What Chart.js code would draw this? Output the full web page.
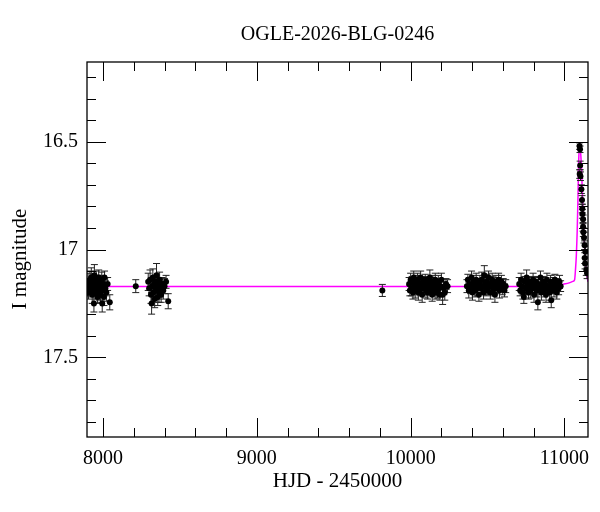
<!DOCTYPE html>
<html>
<head>
<meta charset="utf-8">
<script src="https://cdn.jsdelivr.net/npm/chart.js@4"></script>
<style>
  body { margin: 0; background: #fff; }
  #wrap { width: 600px; height: 512px; }
</style>
</head>
<body>
<div id="wrap"><canvas id="chart"></canvas></div>
<script>
// Fotometria OGLE: HJD - 2450000, magnitud I y su error
const hjd = [
    // temporada 1
    7900, 7903, 7906, 7910, 7915, 7920, 7924, 7927, 7930, 7933, 7937, 7941, 7944, 7948, 7952, 7956, 7960,
    7964, 7968, 7972, 7976, 7980, 7984, 7988, 7992, 7995, 7998, 8002, 8006, 8010, 8015, 8022, 8030, 8044,
    8213,
    // temporada 2
    8294, 8300, 8306, 8312, 8316, 8320, 8324, 8328, 8332, 8336, 8340, 8344, 8348, 8352, 8356, 8360, 8364,
    8368, 8372, 8378, 8385, 8392, 8400, 8410, 8424,
    9816,
    // temporada 3
    9990, 9995, 10000, 10005, 10010, 10015, 10020, 10025, 10030, 10035, 10040, 10045, 10050, 10055, 10060,
    10065, 10070, 10075, 10080, 10085, 10090, 10095, 10100, 10105, 10110, 10115, 10120, 10125, 10130, 10135,
    10140, 10145, 10150, 10155, 10160, 10165, 10170, 10175, 10180, 10185, 10190, 10195, 10200, 10208, 10215,
    10222, 10230, 10240,
    // temporada 4
    10366, 10372, 10378, 10384, 10390, 10396, 10402, 10408, 10414, 10420, 10426, 10432, 10438, 10444, 10450,
    10456, 10462, 10468, 10474, 10479, 10485, 10490, 10495, 10500, 10506, 10512, 10518, 10524, 10530, 10536,
    10542, 10548, 10554, 10560, 10566, 10572, 10578, 10584, 10590, 10596, 10602, 10610, 10618,
    // temporada 5
    10706, 10712, 10718, 10724, 10730, 10736, 10742, 10748, 10754, 10760, 10766, 10772, 10778, 10784, 10790,
    10796, 10802, 10808, 10814, 10820, 10827, 10832, 10838, 10844, 10850, 10856, 10862, 10868, 10874, 10880,
    10886, 10892, 10898, 10904, 10910, 10914, 10920, 10926, 10932, 10938, 10944, 10950, 10956, 10962, 10968,
    10975,
    // evento
    11098, 11101, 11102, 11099, 11104, 11110, 11114, 11116, 11117, 11121, 11121, 11123, 11127, 11131, 11136,
    11132, 11134, 11142, 11147
];
const mag = [
    17.18, 17.15, 17.20, 17.17, 17.14, 17.19, 17.13, 17.16, 17.21, 17.18, 17.15, 17.25, 17.12, 17.17, 17.20, 17.14, 17.18,
    17.22, 17.16, 17.13, 17.19, 17.15, 17.21, 17.17, 17.14, 17.25, 17.19, 17.16, 17.22, 17.13, 17.18, 17.20, 17.16, 17.245,
    17.17,
    17.15, 17.18, 17.14, 17.21, 17.25, 17.17, 17.13, 17.20, 17.16, 17.23, 17.15, 17.19, 17.12, 17.18, 17.22, 17.16, 17.20,
    17.14, 17.18, 17.21, 17.16, 17.19, 17.17, 17.15, 17.24,
    17.19,
    17.16, 17.19, 17.14, 17.18, 17.15, 17.20, 17.13, 17.17, 17.19, 17.15, 17.18, 17.14, 17.20, 17.16, 17.19,
    17.13, 17.17, 17.21, 17.15, 17.18, 17.16, 17.14, 17.19, 17.17, 17.20, 17.15, 17.18, 17.13, 17.16, 17.19,
    17.21, 17.15, 17.18, 17.17, 17.14, 17.20, 17.16, 17.19, 17.15, 17.18, 17.21, 17.17, 17.14, 17.21, 17.18,
    17.20, 17.16, 17.17,
    17.17, 17.14, 17.19, 17.16, 17.18, 17.13, 17.20, 17.15, 17.17, 17.19, 17.14, 17.18, 17.16, 17.21, 17.15,
    17.18, 17.14, 17.17, 17.20, 17.12, 17.16, 17.19, 17.15, 17.18, 17.13, 17.17, 17.20, 17.16, 17.14, 17.19,
    17.17, 17.21, 17.15, 17.18, 17.16, 17.14, 17.19, 17.17, 17.15, 17.18, 17.16, 17.19, 17.17,
    17.16, 17.19, 17.14, 17.17, 17.20, 17.22, 17.15, 17.18, 17.13, 17.17, 17.20, 17.15, 17.19, 17.16, 17.18,
    17.14, 17.21, 17.17, 17.15, 17.19, 17.245, 17.16, 17.18, 17.13, 17.20, 17.17, 17.15, 17.19, 17.16, 17.21,
    17.14, 17.18, 17.17, 17.20, 17.15, 17.235, 17.18, 17.16, 17.19, 17.14, 17.17, 17.20, 17.16, 17.18, 17.15,
    17.17,
    16.52, 16.535, 16.61, 16.65, 16.66, 16.72, 16.77, 16.81, 16.835, 16.86, 16.895, 16.92, 16.945, 16.98, 17.01,
    17.04, 17.065, 17.095, 17.11
];
const magErr = [
    0.035, 0.04, 0.03, 0.035, 0.04, 0.03, 0.045, 0.035, 0.04, 0.03, 0.035, 0.04, 0.05, 0.035, 0.03, 0.04, 0.035,
    0.03, 0.04, 0.035, 0.045, 0.03, 0.035, 0.04, 0.035, 0.04, 0.03, 0.035, 0.04, 0.03, 0.035, 0.04, 0.03, 0.035,
    0.03,
    0.04, 0.035, 0.045, 0.04, 0.05, 0.035, 0.04, 0.045, 0.035, 0.04, 0.03, 0.04, 0.055, 0.035, 0.04, 0.03, 0.045,
    0.035, 0.04, 0.035, 0.03, 0.04, 0.035, 0.03, 0.035,
    0.028,
    0.03, 0.025, 0.03, 0.035, 0.025, 0.03, 0.03, 0.025, 0.035, 0.03, 0.025, 0.03, 0.035, 0.03, 0.025,
    0.03, 0.03, 0.035, 0.025, 0.03, 0.03, 0.025, 0.035, 0.03, 0.03, 0.025, 0.03, 0.035, 0.03, 0.025,
    0.03, 0.03, 0.035, 0.025, 0.03, 0.03, 0.025, 0.035, 0.03, 0.03, 0.025, 0.03, 0.03, 0.045, 0.03,
    0.035, 0.025, 0.03,
    0.03, 0.025, 0.035, 0.03, 0.025, 0.03, 0.035, 0.03, 0.025, 0.03, 0.03, 0.035, 0.025, 0.03, 0.03,
    0.025, 0.035, 0.03, 0.03, 0.045, 0.03, 0.025, 0.035, 0.03, 0.03, 0.025, 0.03, 0.035, 0.03, 0.025,
    0.03, 0.035, 0.03, 0.025, 0.03, 0.03, 0.035, 0.025, 0.03, 0.03, 0.025, 0.03, 0.03,
    0.03, 0.025, 0.03, 0.035, 0.03, 0.03, 0.025, 0.03, 0.035, 0.03, 0.03, 0.025, 0.035, 0.03, 0.025,
    0.03, 0.035, 0.03, 0.025, 0.03, 0.035, 0.03, 0.025, 0.03, 0.035, 0.03, 0.025, 0.03, 0.03, 0.035,
    0.03, 0.025, 0.03, 0.035, 0.03, 0.035, 0.025, 0.03, 0.03, 0.025, 0.035, 0.03, 0.025, 0.03, 0.03,
    0.025,
    0.015, 0.015, 0.02, 0.02, 0.02, 0.02, 0.02, 0.02, 0.02, 0.02, 0.02, 0.02, 0.025, 0.02, 0.025,
    0.025, 0.025, 0.025, 0.025
];

// Modelo (curva magenta)
const modelHjd = [7896, 10900, 10960, 10990, 11030, 11055, 11066, 11072, 11077, 11083, 11088, 11092, 11096,
    11099, 11103, 11110, 11115, 11121, 11126, 11131, 11136, 11142, 11148, 11153];
const modelMag = [17.172, 17.172, 17.168, 17.162, 17.155, 17.148, 17.14, 17.09, 17.03, 16.91, 16.755, 16.60, 16.53,
    16.507, 16.53, 16.61, 16.71, 16.83, 16.92, 16.99, 17.05, 17.10, 17.13, 17.15];

// Marcas de los ejes
const xTicks = [8000, 8200, 8400, 8600, 8800, 9000, 9200, 9400, 9600, 9800, 10000,
    10200, 10400, 10600, 10800, 11000];
const xLabels = [8000, 9000, 10000, 11000];
const yTicks = [16.2, 16.3, 16.4, 16.5, 16.6, 16.7, 16.8, 16.9, 17.0, 17.1, 17.2, 17.3, 17.4, 17.5, 17.6, 17.7, 17.8];
const yLabels = [16.5, 17, 17.5];

const isLabel = (list, v) => list.some(l => Math.abs(l - v) < 1e-6);
const serif = "'Liberation Serif', 'Times New Roman', serif";

// Marco, marcas interiores, barras de error y etiqueta del eje Y
const frame = {
    id: 'frame',
    afterDatasetDraw(chart, args) {
        if (args.index !== 1) return; // despues del modelo, antes de los puntos
        const { ctx, chartArea: a, scales: { x, y } } = chart;
        ctx.save();
        ctx.beginPath();
        ctx.rect(a.left, a.top, a.right - a.left, a.bottom - a.top);
        ctx.clip();
        ctx.strokeStyle = '#222';
        ctx.lineWidth = 1;
        ctx.beginPath();
        hjd.forEach((t, i) => {
            const px = x.getPixelForValue(t);
            const y1 = y.getPixelForValue(mag[i] - magErr[i]);
            const y2 = y.getPixelForValue(mag[i] + magErr[i]);
            ctx.moveTo(px, y1); ctx.lineTo(px, y2);
            ctx.moveTo(px - 3.5, y1); ctx.lineTo(px + 3.5, y1);
            ctx.moveTo(px - 3.5, y2); ctx.lineTo(px + 3.5, y2);
        });
        ctx.stroke();
        ctx.restore();
    },
    afterDraw(chart) {
        const { ctx, chartArea: a, scales: { x, y } } = chart;
        ctx.save();
        ctx.strokeStyle = '#000';
        ctx.lineWidth = 1.3;
        ctx.strokeRect(a.left, a.top, a.right - a.left, a.bottom - a.top);
        ctx.lineWidth = 1;
        ctx.beginPath();
        xTicks.forEach(v => {
            const px = Math.round(x.getPixelForValue(v)) + 0.5;
            const len = isLabel(xLabels, v) ? 19 : 9;
            ctx.moveTo(px, a.bottom); ctx.lineTo(px, a.bottom - len);
            ctx.moveTo(px, a.top); ctx.lineTo(px, a.top + len);
        });
        yTicks.forEach(v => {
            const py = Math.round(y.getPixelForValue(v)) + 0.5;
            const len = isLabel(yLabels, v) ? 19 : 9;
            ctx.moveTo(a.left, py); ctx.lineTo(a.left + len, py);
            ctx.moveTo(a.right, py); ctx.lineTo(a.right - len, py);
        });
        ctx.stroke();

        ctx.translate(20, 259);
        ctx.rotate(-Math.PI / 2);
        ctx.fillStyle = '#000';
        ctx.font = "21px " + serif;
        ctx.textAlign = 'center';
        ctx.textBaseline = 'middle';
        ctx.fillText('I magnitude', 0, 0);
        ctx.restore();
    }
};

const ctx = document.getElementById('chart').getContext('2d');
const chart = new Chart(ctx, {
    type: 'scatter',
    data: {
        datasets: [{
            data: hjd.map((t, i) => ({ x: t, y: mag[i] })),
            backgroundColor: '#000',
            borderWidth: 0,
            pointRadius: 3
        }, {
            data: modelHjd.map((t, i) => ({ x: t, y: modelMag[i] })),
            showLine: true,
            borderColor: '#ff00ff',
            borderWidth: 1.5,
            pointRadius: 0,
            cubicInterpolationMode: 'monotone'
        }]
    },
    options: {
        responsive: true,
        maintainAspectRatio: false,
        animation: false,
        layout: { padding: { left: 0, right: 12, top: 0, bottom: 0 } },
        plugins: {
            legend: { display: false },
            tooltip: { enabled: false },
            title: {
                display: true,
                fullSize: false,
                text: 'OGLE-2026-BLG-0246',
                color: '#000',
                font: { family: serif, size: 20, weight: 'normal' },
                padding: { top: 23, bottom: 15 }
            }
        },
        scales: {
            x: {
                type: 'linear',
                min: 7896,
                max: 11153,
                grid: { display: false, drawTicks: false },
                border: { display: false },
                afterBuildTicks: s => { s.ticks = xTicks.map(v => ({ value: v })); },
                afterFit: s => { s.height = 75; },
                ticks: {
                    color: '#000',
                    font: { family: serif, size: 20 },
                    padding: 10,
                    maxRotation: 0,
                    autoSkip: false,
                    callback: v => isLabel(xLabels, v) ? String(v) : ''
                },
                title: {
                    display: true,
                    text: 'HJD - 2450000',
                    color: '#000',
                    font: { family: serif, size: 21 },
                    padding: { top: 0, bottom: 18 }
                }
            },
            y: {
                type: 'linear',
                reverse: true,
                min: 16.13,
                max: 17.87,
                grid: { display: false, drawTicks: false },
                border: { display: false },
                afterBuildTicks: s => { s.ticks = yTicks.map(v => ({ value: v })); },
                afterFit: s => { s.width = 87; },
                ticks: {
                    color: '#000',
                    font: { family: serif, size: 20 },
                    padding: 9,
                    autoSkip: false,
                    callback: v => isLabel(yLabels, v) ? String(v) : ''
                }
            }
        }
    },
    plugins: [frame]
});
</script>
</body>
</html>
